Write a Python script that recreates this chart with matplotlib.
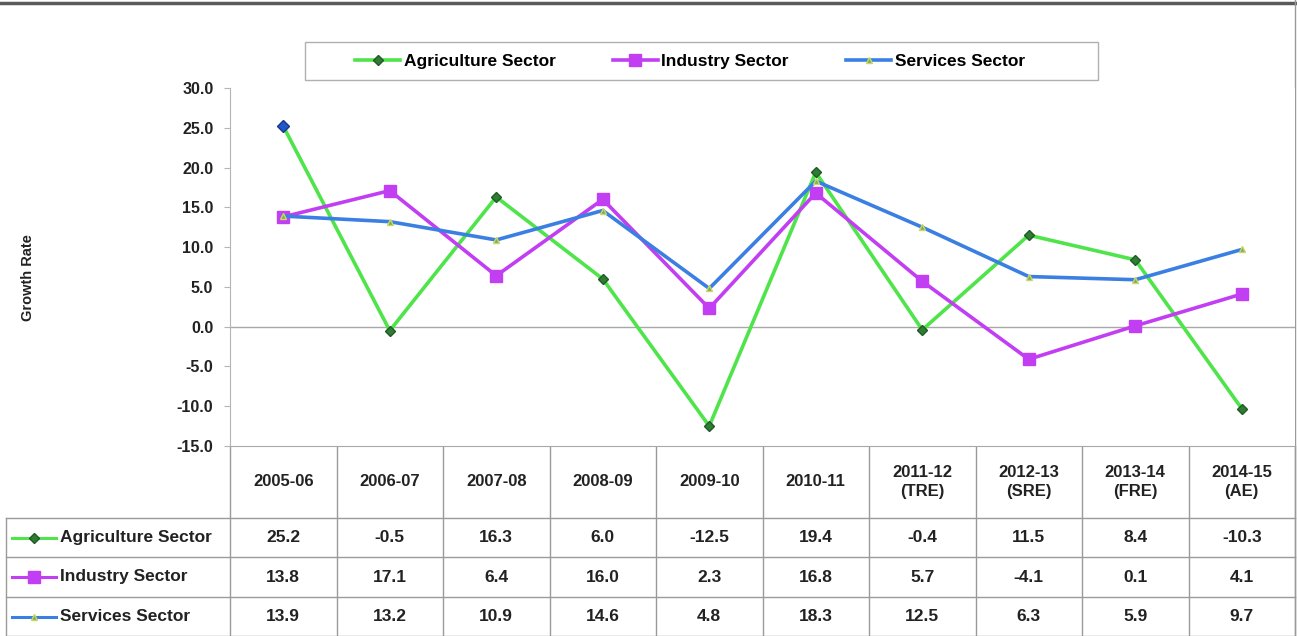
import numpy as np
import matplotlib
matplotlib.use("Agg")
import matplotlib.pyplot as plt
from matplotlib.lines import Line2D
from matplotlib.patches import Rectangle

plt.rcParams.update({"font.family": ["Liberation Sans", "DejaVu Sans"],
                     "font.weight": "bold"})

# ---- datos ----
years = ["2005-06", "2006-07", "2007-08", "2008-09", "2009-10", "2010-11",
         "2011-12\n(TRE)", "2012-13\n(SRE)", "2013-14\n(FRE)", "2014-15\n(AE)"]
agriculture = [25.2, -0.5, 16.3, 6.0, -12.5, 19.4, -0.4, 11.5, 8.4, -10.3]
industry = [13.8, 17.1, 6.4, 16.0, 2.3, 16.8, 5.7, -4.1, 0.1, 4.1]
services = [13.9, 13.2, 10.9, 14.6, 4.8, 18.3, 12.5, 6.3, 5.9, 9.7]
series_names = ["Agriculture Sector", "Industry Sector", "Services Sector"]
yticks = np.arange(-15, 31, 5)

GREEN, PURPLE, BLUE = "#4ee44a", "#c23ef2", "#3b7fe3"
STYLES = [dict(color=GREEN, marker="D", ms=5.5, mfc="#2f7d34", mec="#1f5a24"),
          dict(color=PURPLE, marker="s", ms=8.5, mfc=PURPLE, mec=PURPLE),
          dict(color=BLUE, marker="^", ms=5, mfc="#7fa86a", mec="#c8d860")]

W, H = 1297, 636
fig = plt.figure(figsize=(W / 100, H / 100), dpi=100)

# geometría en píxeles
X0, X1 = 230, 1295
Y_TOP, Y_AX = 88, 446
ROWS = [446, 518, 557, 597, 636]
LEFT = 6
colw = (X1 - X0) / len(years)

ax = fig.add_axes([X0 / W, 1 - Y_AX / H, (X1 - X0) / W, (Y_AX - Y_TOP) / H])
x = np.arange(len(years))
for vals, st in zip((agriculture, industry, services), STYLES):
    ax.plot(x, vals, lw=2.6, zorder=3, **st)
# primer punto de agricultura en azul (como en la figura original)
ax.plot(x[0], agriculture[0], marker="D", ms=6, color="#2457c8", mec="#163a8a", zorder=4)
ax.axhline(0, color="#a8a8a8", lw=1.0, zorder=1)
ax.set_xlim(-0.5, len(years) - 0.5)
ax.set_ylim(-15, 30)
ax.set_yticks(yticks)
ax.set_yticklabels([f"{v:.1f}" for v in yticks], fontsize=11.5, fontweight="bold")
ax.set_xticks([])
for s in ("top", "right"):
    ax.spines[s].set_visible(False)
ax.spines["left"].set_color("#b5b5b5")
ax.spines["bottom"].set_color("#a8a8a8")
ax.tick_params(axis="y", colors="#b5b5b5", labelcolor="#222222", length=4, pad=8)

fig.text(28 / W, 1 - 278 / H, "Growth Rate", rotation=90, ha="center", va="center",
         fontsize=10.5, fontweight="bold", color="#222222")

# ---- leyenda ----
handles = [Line2D([], [], lw=2.6, **st) for st in STYLES]
fig.patches.append(Rectangle((305 / W, 1 - 80 / H), 793 / W, 38 / H, transform=fig.transFigure,
                             fill=False, ec="#b0b0b0", lw=1.0))
fig.legend(handles, series_names, loc="center", bbox_to_anchor=(690 / W, 1 - 61 / H), ncol=3,
           frameon=False, handlelength=2.6, handletextpad=0.2,
           columnspacing=3.3, prop={"weight": "bold", "size": 12.5})

# ---- tabla de datos ----
tb = fig.add_axes([0, 0, 1, 1], zorder=-1)
tb.set_xlim(0, W)
tb.set_ylim(H, 0)
tb.axis("off")
lc = "#9a9a9a"
for yy in ROWS[1:]:
    tb.plot([LEFT, X1], [yy, yy], color=lc, lw=1)
tb.plot([LEFT, LEFT], [ROWS[1], H], color=lc, lw=1)
for i in range(len(years) + 1):
    xx = X0 + i * colw
    tb.plot([xx, xx], [ROWS[0], H], color=lc, lw=1)
for i, lab in enumerate(years):
    cx = X0 + (i + 0.5) * colw
    tb.text(cx, (ROWS[0] + ROWS[1]) / 2, lab, ha="center", va="center", fontsize=12,
            fontweight="bold", color="#222222", linespacing=1.3)
for r, (name, vals, st) in enumerate(zip(series_names, (agriculture, industry, services), STYLES)):
    cy = (ROWS[r + 1] + ROWS[r + 2]) / 2
    tb.plot([12, 56], [cy, cy], lw=2.2, color=st["color"])
    tb.plot([34], [cy], lw=0, **st)
    tb.text(60, cy, name, ha="left", va="center", fontsize=12.5, fontweight="bold", color="#222222")
    for i, v in enumerate(vals):
        tb.text(X0 + (i + 0.5) * colw, cy, f"{v:.1f}", ha="center", va="center",
                fontsize=12.5, fontweight="bold", color="#222222")

# bordes de la imagen
tb.plot([0, W], [2.5, 2.5], color="#5a5a5a", lw=2.5, clip_on=False)
tb.plot([X1, X1], [0, H], color="#9a9a9a", lw=1)

fig.savefig("out.png", dpi=100)
